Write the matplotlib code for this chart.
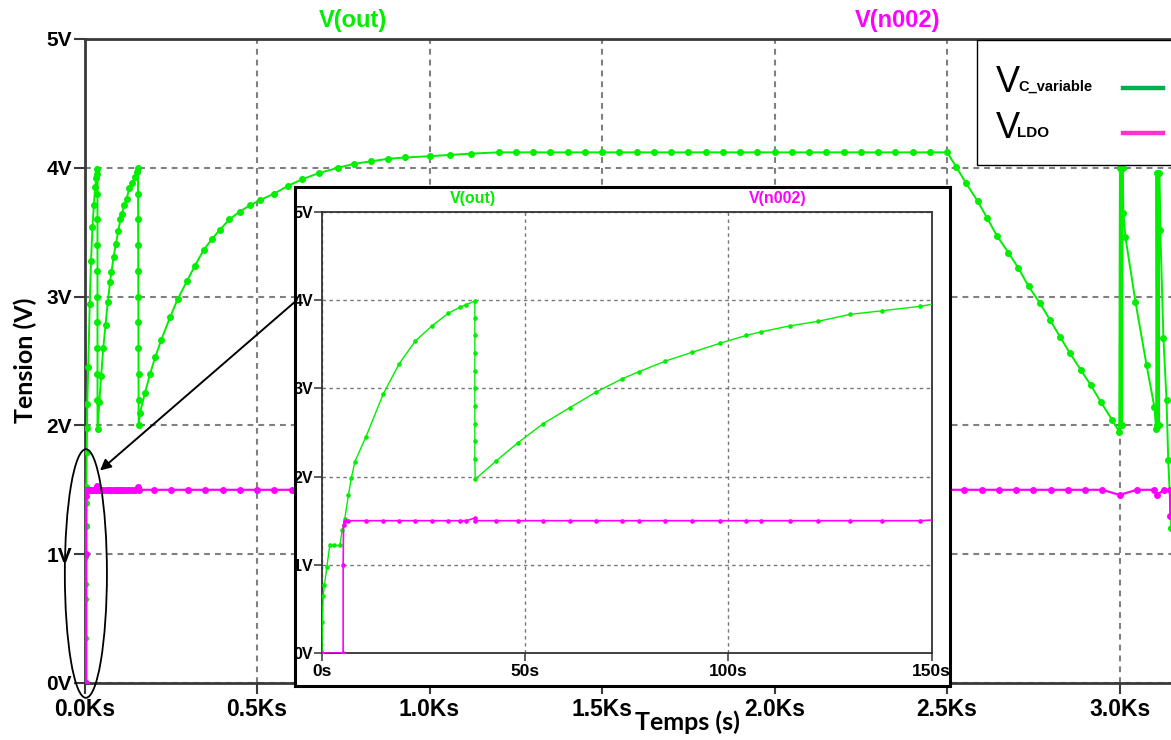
import numpy as np
import matplotlib
matplotlib.use("Agg")
import matplotlib.pyplot as plt
from matplotlib.patches import Ellipse, Rectangle, ConnectionPatch
from matplotlib.lines import Line2D

# ---- V(out) : capacitor voltage (time in s, volts) ----
# first charge from 0 V, then first discharge at ~37.6 s
charge1_t = [0, 0.1, 0.3, 0.6, 1.2, 1.9, 3.0, 4.4, 5.0, 5.6, 6.5, 7.2, 8.1, 10.8, 15.1, 19.0,
             23.0, 27.1, 31.0, 33.9, 35.5, 37.6, 37.6, 37.6, 37.6, 37.6, 37.6, 37.6, 37.6, 37.6, 37.6, 37.7]
charge1_v = [0.00, 0.35, 0.65, 0.77, 0.98, 1.22, 1.22, 1.22, 1.40, 1.52, 1.79, 1.98, 2.17, 2.45, 2.94, 3.28,
             3.54, 3.71, 3.85, 3.92, 3.95, 3.99, 3.80, 3.60, 3.40, 3.20, 3.00, 2.80, 2.60, 2.40, 2.20, 1.97]
# second charge 2 V -> 4 V, drop at ~155 s
charge2_t = [42.9, 48.1, 54.4, 60.9, 67.5, 73.9, 78.0, 84.5, 91.1, 97.8, 104.3, 107.9, 115.2, 122.0,
             130.0, 137.8, 147.1, 152.0, 155.0, 155.2, 155.4, 155.6, 155.8, 156.0, 156.2, 156.4, 156.6,
             156.8, 157.0]
charge2_v = [2.18, 2.38, 2.60, 2.78, 2.96, 3.11, 3.19, 3.31, 3.41, 3.51, 3.60, 3.64, 3.71, 3.76,
             3.84, 3.88, 3.93, 3.97, 4.00, 3.80, 3.60, 3.40, 3.20, 3.00, 2.80, 2.60, 2.40,
             2.20, 2.00]
# long charge up to the plateau
charge3_t = [161, 175, 190, 205, 222, 248, 270, 297, 320, 345, 370, 393, 420, 450, 480, 510, 550, 590,
             630, 680, 735, 780, 830, 880, 930, 1000, 1060, 1120, 1200]
charge3_v = [2.10, 2.25, 2.40, 2.53, 2.66, 2.84, 2.98, 3.12, 3.24, 3.36, 3.45, 3.52, 3.60, 3.66, 3.71, 3.75, 3.80, 3.86,
             3.91, 3.96, 4.00, 4.03, 4.05, 4.07, 4.08, 4.09, 4.10, 4.11, 4.12]
plateau_t = [1250, 1300, 1350, 1400, 1450, 1500, 1550, 1600, 1650, 1700, 1750, 1800, 1850,
             1900, 1950, 2000, 2050, 2100, 2150, 2200, 2250, 2300, 2350, 2400, 2450, 2500]
plateau_v = [4.12, 4.12, 4.12, 4.12, 4.12, 4.12, 4.12, 4.12, 4.12, 4.12, 4.12, 4.12, 4.12,
             4.12, 4.12, 4.12, 4.12, 4.12, 4.12, 4.12, 4.12, 4.12, 4.12, 4.12, 4.12, 4.12]
discharge_t = [2526, 2555, 2589, 2616, 2645, 2678, 2707, 2736, 2769, 2798, 2827, 2856, 2888, 2917,
               2946, 2979, 2999]
discharge_v = [4.01, 3.88, 3.74, 3.61, 3.47, 3.34, 3.22, 3.08, 2.95, 2.82, 2.69, 2.56, 2.43, 2.31,
               2.18, 2.04, 1.95]
bursts_t = [3001, 3003, 3005, 3007, 3009, 3011, 3017, 3046, 3078, 3101, 3106, 3107, 3109, 3111,
            3113, 3115, 3118, 3127, 3136, 3141, 3150]
bursts_v = [4.00, 2.00, 4.00, 2.00, 4.00, 3.65, 3.46, 2.96, 2.47, 2.14, 1.97, 3.96, 2.00, 3.96,
            2.00, 3.96, 3.52, 2.68, 2.20, 1.73, 1.20]

# ---- V(n002) : LDO output ----
ldo_start_t = [0, 5.2, 5.2, 5.3, 5.6, 6.5, 10.8, 15.1, 19.0, 23.0, 27.1, 31.0, 33.9, 35.5, 37.6, 37.7,
               42.9, 48.1, 54.4, 60.9, 67.5, 73.9, 78.0, 84.5, 91.1, 97.8, 104.3, 107.9, 115.2, 122.0,
               130.0, 137.8, 147.1, 155.0, 157.0]
ldo_start_v = [0.00, 0.00, 1.00, 1.45, 1.50, 1.50, 1.50, 1.50, 1.50, 1.50, 1.50, 1.50, 1.50, 1.50, 1.53, 1.50,
               1.50, 1.50, 1.50, 1.50, 1.50, 1.50, 1.50, 1.50, 1.50, 1.50, 1.50, 1.50, 1.50, 1.50,
               1.50, 1.50, 1.50, 1.52, 1.50]
ldo_long_t = [200, 250, 300, 350, 400, 450, 500, 550, 600, 650, 700, 750, 800, 850, 900, 950,
              1000, 1050, 1100, 1150, 1200, 1250, 1300, 1350, 1400, 1450, 1500, 1550, 1600, 1650,
              1700, 1750, 1800, 1850, 1900, 1950, 2000, 2050, 2100, 2150, 2200, 2250, 2300, 2350,
              2400, 2450, 2500, 2550, 2600, 2650, 2700, 2750, 2800, 2850, 2900, 2950, 3000, 3050,
              3100, 3107, 3130, 3146, 3147, 3150]
ldo_long_v = [1.50, 1.50, 1.50, 1.50, 1.50, 1.50, 1.50, 1.50, 1.50, 1.50, 1.50, 1.50, 1.50, 1.50, 1.50, 1.53,
              1.50, 1.50, 1.50, 1.50, 1.50, 1.50, 1.50, 1.50, 1.50, 1.50, 1.50, 1.50, 1.50, 1.50,
              1.50, 1.50, 1.50, 1.50, 1.50, 1.50, 1.50, 1.50, 1.50, 1.50, 1.50, 1.50, 1.50, 1.50,
              1.50, 1.50, 1.50, 1.50, 1.50, 1.50, 1.50, 1.50, 1.50, 1.50, 1.50, 1.50, 1.46, 1.50,
              1.50, 1.46, 1.50, 1.50, 1.30, 1.30]

vout_t = np.array(charge1_t + charge2_t + charge3_t + plateau_t + discharge_t + bursts_t, dtype=float)
vout_v = np.array(charge1_v + charge2_v + charge3_v + plateau_v + discharge_v + bursts_v)
ldo_t = np.array(ldo_start_t + ldo_long_t, dtype=float)
ldo_v = np.array(ldo_start_v + ldo_long_v)

main_xticks = [0, 0.5, 1.0, 1.5, 2.0, 2.5, 3.0]
main_xlabels = ["0.0Ks", "0.5Ks", "1.0Ks", "1.5Ks", "2.0Ks", "2.5Ks", "3.0Ks"]
volt_ticks = [0, 1, 2, 3, 4, 5]
volt_labels = ["0V", "1V", "2V", "3V", "4V", "5V"]
inset_xticks = [0, 50, 100, 150]
inset_xlabels = ["0s", "50s", "100s", "150s"]

GREEN = "#00ee00"
MAGENTA = "#ff00ff"
NARROW = ["Liberation Sans Narrow", "Liberation Sans", "DejaVu Sans"]
LABEL_FONT = ["Lato", "DejaVu Sans"]

W, H = 1171, 740
fig = plt.figure(figsize=(W / 100, H / 100), dpi=100)

# ---------------- main axes ----------------
ax = fig.add_axes([84.5 / W, 57 / H, (W - 84.5) / W, 644 / H])
ax.plot(vout_t / 1000, vout_v, color=GREEN, lw=1.4, marker="o", ms=4, mec=GREEN, mfc=GREEN, zorder=3)
ax.plot(ldo_t / 1000, ldo_v, color=MAGENTA, lw=1.6, marker="o", ms=4, mec=MAGENTA, mfc=MAGENTA, zorder=3)
ax.set_xlim(0, 3.149)
ax.set_ylim(0, 5)
ax.set_xticks(main_xticks)
ax.set_xticklabels(main_xlabels, family=NARROW, weight="bold", fontsize=16.5)
ax.set_yticks(volt_ticks)
ax.set_yticklabels(volt_labels, family=NARROW, weight="bold", fontsize=15)
ax.tick_params(direction="out", length=8, width=1.5, color="#3a3a3a")
ax.tick_params(axis="x", pad=3)
ax.tick_params(axis="y", pad=1)
ax.grid(True, color="#808080", lw=1.5, linestyle=(0, (2.8, 2.4)))
ax.set_axisbelow(True)
for side in ["left", "top", "bottom"]:
    ax.spines[side].set_color("#3a3a3a")
    ax.spines[side].set_linewidth(2)
ax.spines["right"].set_visible(False)

fig.text(353 / W, 1 - 20 / H, "V(out)", color=GREEN, family=NARROW, weight="bold",
         fontsize=17, ha="center", va="center")
fig.text(898 / W, 1 - 20 / H, "V(n002)", color=MAGENTA, family=NARROW, weight="bold",
         fontsize=17, ha="center", va="center")

fig.text(25 / W, 1 - 360 / H, "Tension (V)", rotation=90, family=LABEL_FONT, weight="bold",
         fontsize=18, ha="center", va="center")
fig.text(687 / W, 1 - 722 / H, "Temps (s)", family=LABEL_FONT, weight="bold",
         fontsize=18, ha="center", va="center", zorder=6)

# ---------------- zoom inset ----------------
box = fig.add_axes([295 / W, 1 - 686 / H, 655 / W, 499 / H], zorder=2)
box.set_xticks([])
box.set_yticks([])
for side in box.spines:
    box.spines[side].set_color("black")
    box.spines[side].set_linewidth(2.2)

axin = fig.add_axes([322 / W, 1 - 653 / H, 609.7 / W, 441 / H], zorder=3)
axin.plot(vout_t, vout_v, color=GREEN, lw=1.0, marker="o", ms=2.3, mec=GREEN, mfc=GREEN, zorder=3)
axin.plot(ldo_t, ldo_v, color=MAGENTA, lw=1.2, marker="o", ms=2.3, mec=MAGENTA, mfc=MAGENTA, zorder=3)
axin.set_xlim(0, 150)
axin.set_ylim(0, 5)
axin.set_xticks(inset_xticks)
axin.set_xticklabels(inset_xlabels, family=NARROW, weight="bold", fontsize=12.5)
axin.set_yticks(volt_ticks)
axin.set_yticklabels(volt_labels, family=NARROW, weight="bold", fontsize=11.5)
axin.tick_params(direction="out", length=6, width=1.1, color="#333333")
axin.tick_params(axis="x", pad=2)
axin.tick_params(axis="y", pad=0.5)
axin.grid(True, color="#777777", lw=1.0, linestyle=(0, (2.5, 2.5)))
axin.set_axisbelow(True)
for side in axin.spines:
    axin.spines[side].set_color("#333333")
    axin.spines[side].set_linewidth(1.3)

fig.text(473 / W, 1 - 199 / H, "V(out)", color=GREEN, family=NARROW, weight="bold",
         fontsize=11.5, ha="center", va="center", zorder=6)
fig.text(778 / W, 1 - 199 / H, "V(n002)", color=MAGENTA, family=NARROW, weight="bold",
         fontsize=11.5, ha="center", va="center", zorder=6)

# ellipse around the start-up region and arrow to the zoom
ax.add_patch(Ellipse((0.004, 0.85), 0.122, 1.93, fill=False, ec="black", lw=1.3,
                     clip_on=False, zorder=6))
arrow = ConnectionPatch(xyA=(-6.2, 4.0), coordsA=axin.transData, xyB=(0.045, 1.65), coordsB=ax.transData,
                        arrowstyle="-|>", mutation_scale=16, lw=1.4, color="black", zorder=7)
fig.add_artist(arrow)

# ---------------- legend box ----------------
fig.add_artist(Rectangle((977 / W, 1 - 165 / H), 0.2, 125 / H, transform=fig.transFigure,
                         fc="white", ec="black", lw=1.0, zorder=4))
leg_font = ["Liberation Sans Narrow", "Liberation Sans", "DejaVu Sans"]
fig.text(996 / W, 1 - 92 / H, "V", family=leg_font, fontsize=26, ha="left", va="baseline", zorder=5)
fig.text(1018 / W, 1 - 91 / H, "C_variable", family=leg_font, weight="bold", fontsize=10.5,
         ha="left", va="baseline", zorder=5)
fig.text(996 / W, 1 - 138 / H, "V", family=leg_font, fontsize=26, ha="left", va="baseline", zorder=5)
fig.text(1017 / W, 1 - 137 / H, "LDO", family=leg_font, weight="bold", fontsize=11,
         ha="left", va="baseline", zorder=5)
fig.add_artist(Line2D([1123 / W, 1163 / W], [1 - 88 / H, 1 - 88 / H], transform=fig.transFigure,
                      color="#00b050", lw=3.2, zorder=5))
fig.add_artist(Line2D([1123 / W, 1163 / W], [1 - 133 / H, 1 - 133 / H], transform=fig.transFigure,
                      color="#ff33cc", lw=3.2, zorder=5))

fig.savefig("out.png", dpi=100)
